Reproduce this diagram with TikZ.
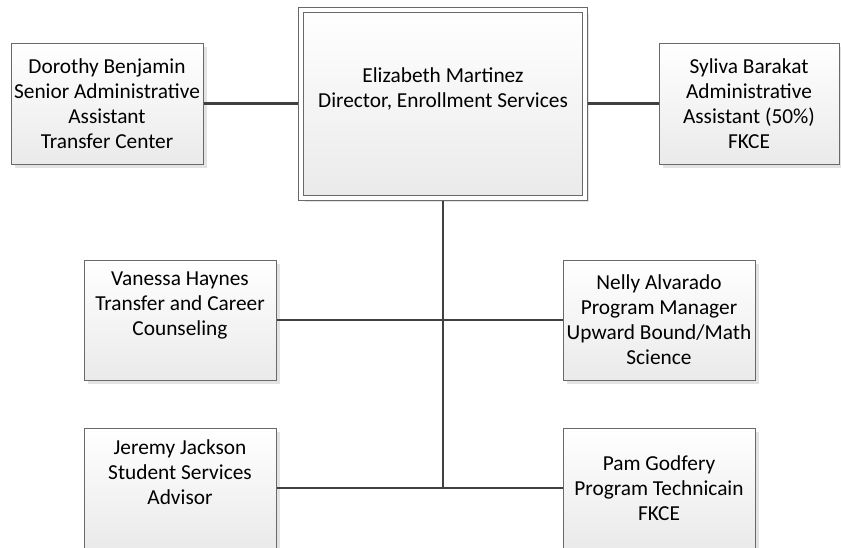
\documentclass[tikz,border=0pt]{standalone}
\usepackage{fontspec}
\setmainfont{Carlito}
\usetikzlibrary{positioning,shadows}
\definecolor{boxline}{RGB}{105,105,105}
\definecolor{wiregray}{RGB}{64,64,64}
\definecolor{boxbottom}{RGB}{234,234,234}
\begin{document}
\begin{tikzpicture}[x=0.75pt,y=-0.75pt,
  staff/.style={draw=boxline,line width=0.75pt,top color=white,bottom color=boxbottom,
    drop shadow={shadow xshift=3pt,shadow yshift=-3pt,fill=black!11,opacity=1},
    minimum width=144pt,minimum height=90pt,inner sep=1pt,align=center,
    font=\fontsize{16}{18.75}\selectfont},
  head/.style={staff,double=white,double distance=3pt,minimum width=212.6pt,minimum height=141pt},
  link/.style={draw=wiregray,line width=2pt}]

                \useasboundingbox (0,0) rectangle (841,547);
                \clip (0,0) rectangle (841,547);

                \node[head] (main) at (443,103.5) {Elizabeth Martinez\\Director, Enrollment Services\\\strut};

                \node[staff,minimum height=90.75pt] (dorothy) at (107,103.5) {Dorothy Benjamin\\Senior Administrative\\Assistant\\Transfer Center};
                \node[staff,minimum width=135pt,minimum height=90.75pt] (syliva) at (749,103.5) {Syliva Barakat\\Administrative\\Assistant (50\%)\\FKCE};

                \node[staff] (vanessa) at (180,320) {Vanessa Haynes\\Transfer and Career\\Counseling\\\strut};
                \node[staff] (nelly) at (659,320) {Nelly Alvarado\\Program Manager\\Upward Bound/Math\\Science};

                \node[staff] (jeremy) at (180,488) {Jeremy Jackson\\Student Services\\Advisor\\\strut};
                \node[staff] (pam) at (659,488) {Pam Godfery\\Program Technicain\\FKCE};

                \draw[link,shorten >=2.25pt] (dorothy) -- (main);
                \draw[link,shorten <=2.25pt] (main) -- (syliva);
                \draw[link,shorten <=2.25pt] (main.south) -- (main.south |- pam.west);
                \draw[link] (vanessa) -- (nelly);
                \draw[link] (jeremy) -- (pam);

            \end{tikzpicture}
\end{document}
